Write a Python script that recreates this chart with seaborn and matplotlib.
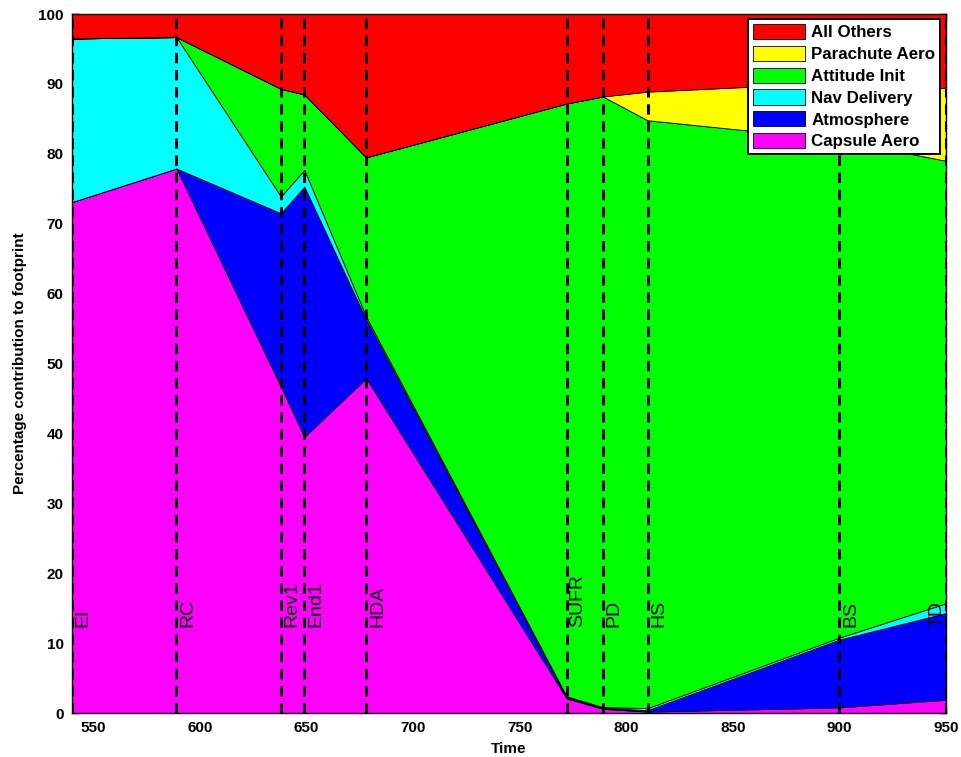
import matplotlib
matplotlib.use("Agg")
import matplotlib.pyplot as plt
import seaborn as sns
import pandas as pd

# Event times along the entry trajectory (s)
times = [540, 589, 638, 649, 678, 772, 789, 810, 900, 950]
event_names = ["EI", "RC", "Rev1", "End1", "HDA", "SUFR", "PD", "HS", "BS", "TD"]

# Percentage contribution of each error source to the footprint
capsule_aero = [73.1, 77.9, 46.7, 39.5, 47.9, 2.1, 0.6, 0.2, 0.8, 1.9]
atmosphere = [0.0, 0.0, 24.8, 35.8, 8.4, 0.2, 0.15, 0.2, 9.7, 12.4]
nav_delivery = [23.4, 18.8, 2.4, 2.4, 0.4, 0.1, 0.1, 0.3, 0.3, 1.4]
attitude_init = [0.0, 0.0, 15.4, 10.8, 22.8, 84.8, 87.35, 84.1, 71.2, 63.3]
parachute_aero = [0.0, 0.0, 0.0, 0.0, 0.0, 0.0, 0.0, 4.1, 8.2, 10.4]
all_others = [3.5, 3.3, 10.7, 11.5, 20.5, 12.8, 11.8, 11.1, 9.8, 10.6]

sources = ["Capsule Aero", "Atmosphere", "Nav Delivery",
           "Attitude Init", "Parachute Aero", "All Others"]
colors = ["#ff00ff", "#0000ff", "#00ffff", "#00ff00", "#ffff00", "#ff0000"]

df = pd.DataFrame({
    "Time": times,
    "Capsule Aero": capsule_aero,
    "Atmosphere": atmosphere,
    "Nav Delivery": nav_delivery,
    "Attitude Init": attitude_init,
    "Parachute Aero": parachute_aero,
    "All Others": all_others,
})

sns.set_style("ticks")
plt.rcParams["font.family"] = ["Liberation Sans", "DejaVu Sans"]
plt.rcParams["font.weight"] = "bold"
plt.rcParams["text.color"] = "black"
plt.rcParams["axes.labelcolor"] = "black"
plt.rcParams["xtick.color"] = "black"
plt.rcParams["ytick.color"] = "black"

fig = plt.figure(figsize=(9.61, 7.57), dpi=100)
ax = fig.add_axes([0.0749, 0.0581, 0.9095, 0.9234])

polys = ax.stackplot(df["Time"], [df[s] for s in sources], colors=colors,
                     labels=sources, edgecolor="black", linewidth=0.6)

# Mission event markers
for t, name in zip(times, event_names):
    ax.axvline(t, color="black", linewidth=2.2, linestyle=(0, (3.4, 2.2)),
               zorder=5)
    last = name == event_names[-1]
    ax.annotate(name, xy=(t, 12.3), xytext=(0 if last else 2, 0),
                textcoords="offset points", rotation=90,
                ha="right" if last else "left", va="bottom", fontsize=14,
                fontweight="normal", color="black", zorder=6)

ax.set_xlim(540, 950)
ax.set_ylim(0, 100)
ax.set_xticks(range(550, 951, 50))
ax.set_yticks(range(0, 101, 10))
ax.tick_params(direction="in", length=5, width=1, labelsize=11,
               top=True, right=True, pad=6, colors="black")
for lbl in ax.get_xticklabels() + ax.get_yticklabels():
    lbl.set_fontweight("bold")
    lbl.set_color("black")
for sp in ax.spines.values():
    sp.set_linewidth(1.0)
    sp.set_color("black")
    sp.set_zorder(7)

ax.set_xlabel("Time", fontsize=11, fontweight="bold", labelpad=5,
              color="black")
ax.set_ylabel("Percentage contribution to footprint", fontsize=11,
              fontweight="bold", labelpad=8, color="black")

handles, labels = ax.get_legend_handles_labels()
leg = ax.legend(handles[::-1], labels[::-1], loc="upper right",
                bbox_to_anchor=(0.9935, 0.993), fontsize=12.2,
                frameon=True, fancybox=False, edgecolor="black",
                framealpha=1, handlelength=3.1, handleheight=1.0,
                borderpad=0.3, labelspacing=0.32, handletextpad=0.35,
                borderaxespad=0)
leg.get_frame().set_linewidth(1.4)
leg.set_zorder(10)
for txt in leg.get_texts():
    txt.set_fontweight("bold")
    txt.set_color("black")

fig.savefig("out.png", dpi=100)
